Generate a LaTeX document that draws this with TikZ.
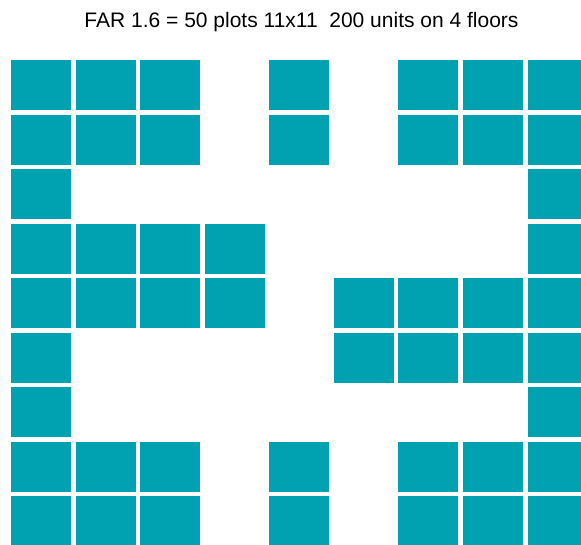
\documentclass[tikz,border=0pt]{standalone}
\usepackage{fontspec}
\setmainfont{Liberation Sans}
\definecolor{plot}{HTML}{00A1B0}
\begin{document}
\begin{tikzpicture}[x=1pt,y=-1pt,
  plotbox/.style={fill=plot,draw=none}]
\useasboundingbox (0,0) rectangle (581,544);
\clip (0,0) rectangle (581,544);
\node[font=\fontsize{21}{24}\selectfont,anchor=base,inner sep=0pt] (title) at (301.5,27.3) {FAR 1.6 = 50 plots 11x11\ \ 200 units on 4 floors};
\newcommand\plotrow[2]{%
  \foreach \c in {#2} {
    \path[plotbox] ({11+64.57*\c},{60+54.5*#1}) rectangle ++(60,50);
  }}
\plotrow{0}{0,1,2,4,6,7,8}
\plotrow{1}{0,1,2,4,6,7,8}
\plotrow{2}{0,8}
\plotrow{3}{0,1,2,3,8}
\plotrow{4}{0,1,2,3,5,6,7,8}
\plotrow{5}{0,5,6,7,8}
\plotrow{6}{0,8}
\plotrow{7}{0,1,2,4,6,7,8}
\plotrow{8}{0,1,2,4,6,7,8}
\end{tikzpicture}
\end{document}
